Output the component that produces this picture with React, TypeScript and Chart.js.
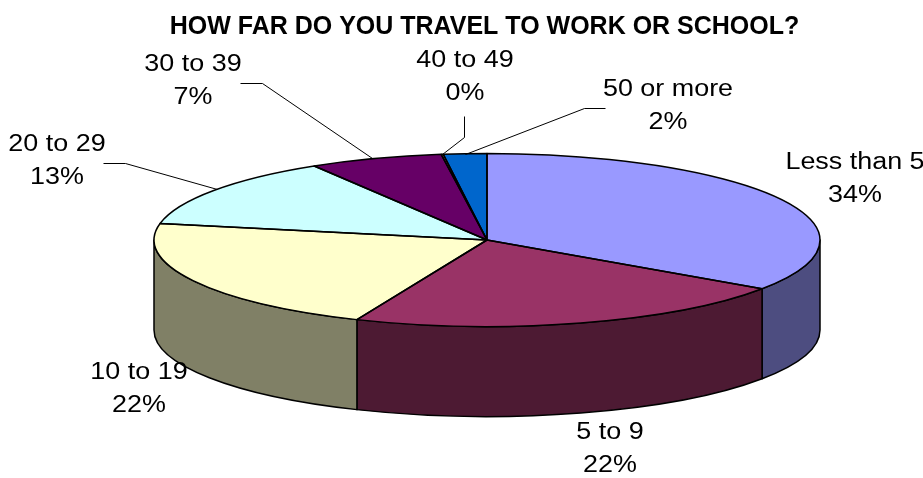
import React, { useEffect, useRef } from "react";
import { Chart, registerables } from "chart.js";

Chart.register(...registerables);

const categories = ["Less than 5", "5 to 9", "10 to 19", "20 to 29", "30 to 39", "40 to 49", "50 or more"];
const values = [34.6, 21.9, 21.7, 13.3, 6.5, 0.1, 2.1];
const percentLabels = ["34%", "22%", "22%", "13%", "7%", "0%", "2%"];
const topColors = ["#9999FF", "#993366", "#FFFFCC", "#CCFFFF", "#660066", "#FF8080", "#0066CC"];
const wallColors = ["#4D4D80", "#4D1A33", "#808066", "#668080", "#330033", "#804040", "#003366"];
const titleText = "HOW FAR DO YOU TRAVEL TO WORK OR SCHOOL?";

// Layout of the flattened disc and its labels (pixels on the canvas)
const disc = { cx: 487, cy: 240, rx: 333, ry: 86.5, depth: 90 };
const labelCentres = [
  [855, 163], [610, 433], [139, 373], [57, 145], [193, 65], [465, 61], [668, 90],
];
const leaders = [
  null, null, null,
  [[103, 163], [125, 163], [217, 189]],
  [[240, 83], [262, 83], [372, 158]],
  [[464, 116], [464, 137], [442, 154]],
  [[605, 108], [584, 108], [465, 154]],
];
const FONT = '"Liberation Sans", Arial, sans-serif';
const LABEL_SIZE = 23;
const LABEL_STRETCH = 1.17;
const LINE_GAP = 33;

function applyDiscTransform(ctx: CanvasRenderingContext2D, el: any) {
  const p = el.getProps(["x", "y", "outerRadius"], true);
  ctx.translate(disc.cx, disc.cy);
  ctx.scale(disc.rx / p.outerRadius, disc.ry / p.outerRadius);
  ctx.translate(-p.x, -p.y);
}

const pie3d = {
  id: "pie3d",
  beforeDatasetsDraw(chart: any) {
    const ctx: CanvasRenderingContext2D = chart.ctx;
    const arcs = chart.getDatasetMeta(0).data;
    ctx.save();
    ctx.lineWidth = 1.5;
    ctx.strokeStyle = "#000";
    ctx.lineJoin = "round";
    arcs.forEach((el: any, i: number) => {
      const { startAngle, endAngle } = el.getProps(["startAngle", "endAngle"], true);
      const a = Math.max(startAngle, 0);
      const b = Math.min(endAngle, Math.PI);
      if (b <= a) return;
      ctx.beginPath();
      ctx.ellipse(disc.cx, disc.cy, disc.rx, disc.ry, 0, a, b);
      ctx.ellipse(disc.cx, disc.cy + disc.depth, disc.rx, disc.ry, 0, b, a, true);
      ctx.closePath();
      ctx.fillStyle = wallColors[i];
      ctx.fill();
      ctx.stroke();
    });
    ctx.restore();
    ctx.save();
    if (arcs.length) applyDiscTransform(ctx, arcs[0]);
  },
  afterDatasetsDraw(chart: any) {
    const ctx: CanvasRenderingContext2D = chart.ctx;
    ctx.restore();
    const arcs = chart.getDatasetMeta(0).data;
    ctx.save();
    ctx.lineWidth = 1.5;
    ctx.strokeStyle = "#000";
    ctx.lineJoin = "round";
    arcs.forEach((el: any) => {
      const { startAngle, endAngle } = el.getProps(["startAngle", "endAngle"], true);
      ctx.beginPath();
      ctx.moveTo(disc.cx, disc.cy);
      ctx.ellipse(disc.cx, disc.cy, disc.rx, disc.ry, 0, startAngle, endAngle);
      ctx.closePath();
      ctx.stroke();
    });
    ctx.restore();

    ctx.save();
    ctx.strokeStyle = "#000";
    ctx.lineWidth = 1;
    leaders.forEach((pts) => {
      if (!pts) return;
      ctx.beginPath();
      pts.forEach(([x, y], k) => (k ? ctx.lineTo(x + 0.5, y + 0.5) : ctx.moveTo(x + 0.5, y + 0.5)));
      ctx.stroke();
    });
    ctx.fillStyle = "#000";
    ctx.font = `${LABEL_SIZE}px ${FONT}`;
    ctx.textAlign = "center";
    ctx.textBaseline = "middle";
    categories.forEach((name, i) => {
      const [x, y] = labelCentres[i];
      ctx.save();
      ctx.translate(x, y);
      ctx.scale(LABEL_STRETCH, 1);
      ctx.fillText(name, 0, 0);
      ctx.fillText(percentLabels[i], 0, LINE_GAP);
      ctx.restore();
    });
    ctx.restore();
  },
};

export default function App() {
  const ref = useRef<HTMLCanvasElement>(null);
  useEffect(() => {
    if (!ref.current) return;
    const chart = new Chart(ref.current, {
      type: "pie",
      data: {
        labels: categories,
        datasets: [{ data: values, backgroundColor: topColors, borderWidth: 0 }],
      },
      options: {
        responsive: false,
        animation: false,
        layout: { padding: { left: 46, top: 12, bottom: 0, right: 0 } },
        plugins: {
          legend: { display: false },
          tooltip: { enabled: false },
          title: {
            display: true,
            text: titleText,
            color: "#000",
            font: { family: FONT, size: 25, weight: "bold" },
            padding: { top: 0, bottom: 8 },
          },
        },
      },
      plugins: [pie3d],
    } as any);
    return () => chart.destroy();
  }, []);
  return (
    <canvas
      ref={ref}
      width={923}
      height={478}
      style={{ position: "fixed", left: 0, top: 0, width: 923, height: 478, display: "block" }}
    />
  );
}
